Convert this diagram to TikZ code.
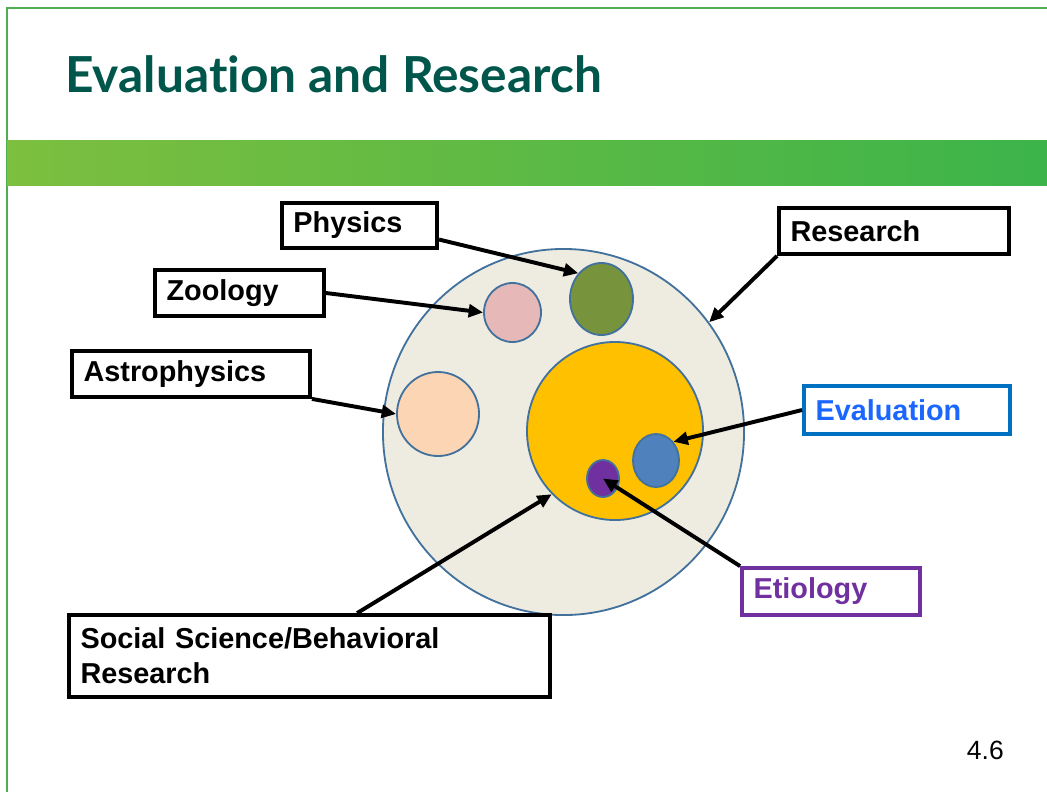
\documentclass[tikz,border=0pt]{standalone}
\usepackage{fontspec}
\setmainfont{Liberation Sans}
\newfontfamily\titlefont[Ligatures=NoCommon]{Lato}
\usetikzlibrary{arrows.meta, positioning, shapes.geometric}

\definecolor{frame}{HTML}{4FAE52}
\definecolor{titleteal}{HTML}{00564B}
\definecolor{bandL}{HTML}{7DBF3F}
\definecolor{bandR}{HTML}{3CB44A}
\definecolor{rim}{HTML}{41719C}
\definecolor{resfill}{HTML}{EEECE1}
\definecolor{socfill}{HTML}{FFC000}
\definecolor{physfill}{HTML}{77933C}
\definecolor{zoofill}{HTML}{E6B9B8}
\definecolor{astrofill}{HTML}{FCD5B5}
\definecolor{evalfill}{HTML}{4F81BD}
\definecolor{etiofill}{HTML}{7030A0}
\definecolor{evalline}{HTML}{0070C0}
\definecolor{evaltext}{HTML}{1A66FF}

\begin{document}
\begin{tikzpicture}[
        x=0.025cm, y=-0.025cm,
        box/.style={draw, line width=2.7pt, inner xsep=0.29cm, inner ysep=0pt,
            align=left, text width=#1, font=\fontsize{20.5}{24.8}\selectfont\bfseries},
        blob/.style={draw=rim, line width=1.3pt, ellipse, inner sep=0pt},
        link/.style={line width=2.8pt, -{Triangle[length=0.36cm, width=0.32cm]}}
    ]
        \useasboundingbox (0,0) rectangle (1047,792);

        % slide frame, title and band
        \draw[frame, line width=1.5pt] (7,792) -- (7,8) -- (1047,8);
        \node[anchor=base west, inner sep=0pt, text=titleteal,
            font=\titlefont\bfseries\fontsize{35.3}{42}\selectfont] (title) at (65,92)
            {Evaluation and Research};
        \shade[left color=bandL, right color=bandR] (7,140) rectangle (1047,185);

        % nested fields
        \node[blob, fill=resfill, minimum width=9.025cm, minimum height=9.15cm] (big) at (563.5,432) {};
        \node[blob, fill=socfill, minimum width=4.4cm, minimum height=4.45cm] (yellow) at (615,431) {};
        \node[blob, fill=physfill, minimum width=1.575cm, minimum height=1.8cm] (green) at (601.5,299) {};
        \node[blob, fill=zoofill, minimum width=1.425cm, minimum height=1.475cm] (pink) at (512.5,312.5) {};
        \node[blob, fill=astrofill, minimum width=2.05cm, minimum height=2.1cm] (peach) at (438,414) {};
        \node[blob, fill=evalfill, minimum width=1.15cm, minimum height=1.325cm] (blue) at (656,460.5) {};
        \node[blob, fill=etiofill, minimum width=0.8cm, minimum height=0.925cm] (purple) at (603,478.5) {};

        % labels
        \node[box=3.3cm, minimum height=1.125cm] (physics) at (359.5,225.5) {Physics};
        \node[box=5.17cm, minimum height=1.15cm] (research) at (894,231) {Research};
        \node[box=3.645cm, minimum height=1.15cm] (zoology) at (239.5,293) {Zoology};
        \node[box=5.37cm, minimum height=1.15cm] (astro) at (191,374) {Astrophysics};
        \node[box=4.57cm, minimum height=1.2cm, draw=evalline, text=evaltext] (eval) at (907,410) {Evaluation};
        \node[box=3.87cm, minimum height=1.175cm, draw=etiofill, text=etiofill] (etio) at (831,591.5) {Etiology};
        \node[box=11.445cm, minimum height=2.05cm] (social) at (309.5,656)
            {Social Science/Behavioral\\Research};

        \draw[link] (physics.-10) -- (green.132);
        \draw[link] (zoology.east) -- (pink.west);
        \draw[link] (astro.south east) -- (peach.west);
        \draw[link] (research.south west) -- (big.37);
        \draw[link] (eval.west) -- (blue.47);
        \draw[link] (etio.north west) -- (purple.center);
        \draw[link] (social.42.6) -- (yellow.225);

        \node[anchor=base east, inner sep=0pt, font=\fontsize{18.8}{22}\selectfont] (page) at (1004,759) {4.6};
    \end{tikzpicture}
\end{document}
